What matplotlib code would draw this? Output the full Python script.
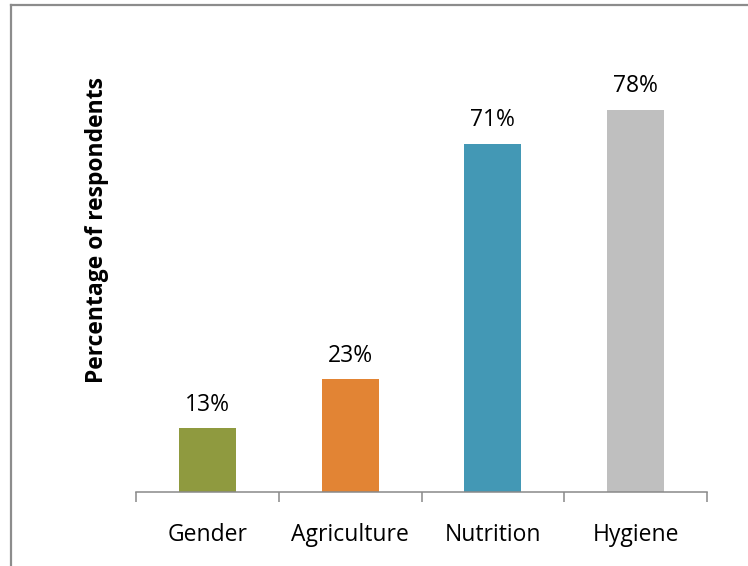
import matplotlib
matplotlib.use("Agg")
import matplotlib.pyplot as plt
from matplotlib.lines import Line2D

categories = ["Gender", "Agriculture", "Nutrition", "Hygiene"]
values = [13, 23, 71, 78]
colors = ["#8F9A3F", "#E28434", "#4398B5", "#BFBFBF"]
ylabel = "Percentage of respondents"

plt.rcParams['font.family'] = ['Open Sans', 'DejaVu Sans']

W, H = 748, 566
fig = plt.figure(figsize=(W / 100, H / 100), dpi=100)

ax_left, ax_right = 136 / W, 707 / W
ax_bottom, ax_top = (H - 492) / H, (H - 51) / H
ax = fig.add_axes([ax_left, ax_bottom, ax_right - ax_left, ax_top - ax_bottom])

x = list(range(len(categories)))
bars = ax.bar(x, values, width=0.4, color=colors, zorder=2)
ax.set_xlim(-0.5, len(categories) - 0.5)
ax.set_ylim(0, 90)

for rect, v in zip(bars, values):
    ax.annotate(f"{v}%", (rect.get_x() + rect.get_width() / 2, rect.get_height()),
                xytext=(0, 17), textcoords="offset points", ha="center", va="center",
                fontsize=16.5, color="#000000")

for s in ["top", "right", "left"]:
    ax.spines[s].set_visible(False)
ax.spines["bottom"].set_color("#898989")
ax.spines["bottom"].set_linewidth(1.1)
ax.set_yticks([])
ax.set_xticks([i - 0.5 for i in range(len(categories) + 1)], minor=False)
ax.set_xticklabels([])
ax.tick_params(axis="x", which="major", length=7, width=1.1, color="#898989", direction="out")
ax.set_xticks(x, minor=True)
ax.set_xticklabels(categories, minor=True, fontsize=16.5)
ax.tick_params(axis="x", which="minor", length=0, pad=22)

fig.text(97 / W, 1 - 230 / H, ylabel, rotation=90, ha="center", va="center",
         fontsize=16.5, fontweight="bold")

# outer frame (top and left edges)
fig.add_artist(Line2D([11 / W, 11 / W], [0, 1 - 5 / H], color="#8C8C8C", linewidth=1.6,
                      transform=fig.transFigure))
fig.add_artist(Line2D([11 / W, 1], [1 - 5 / H, 1 - 5 / H], color="#8C8C8C", linewidth=1.6,
                      transform=fig.transFigure))

fig.savefig("out.png", dpi=100)
